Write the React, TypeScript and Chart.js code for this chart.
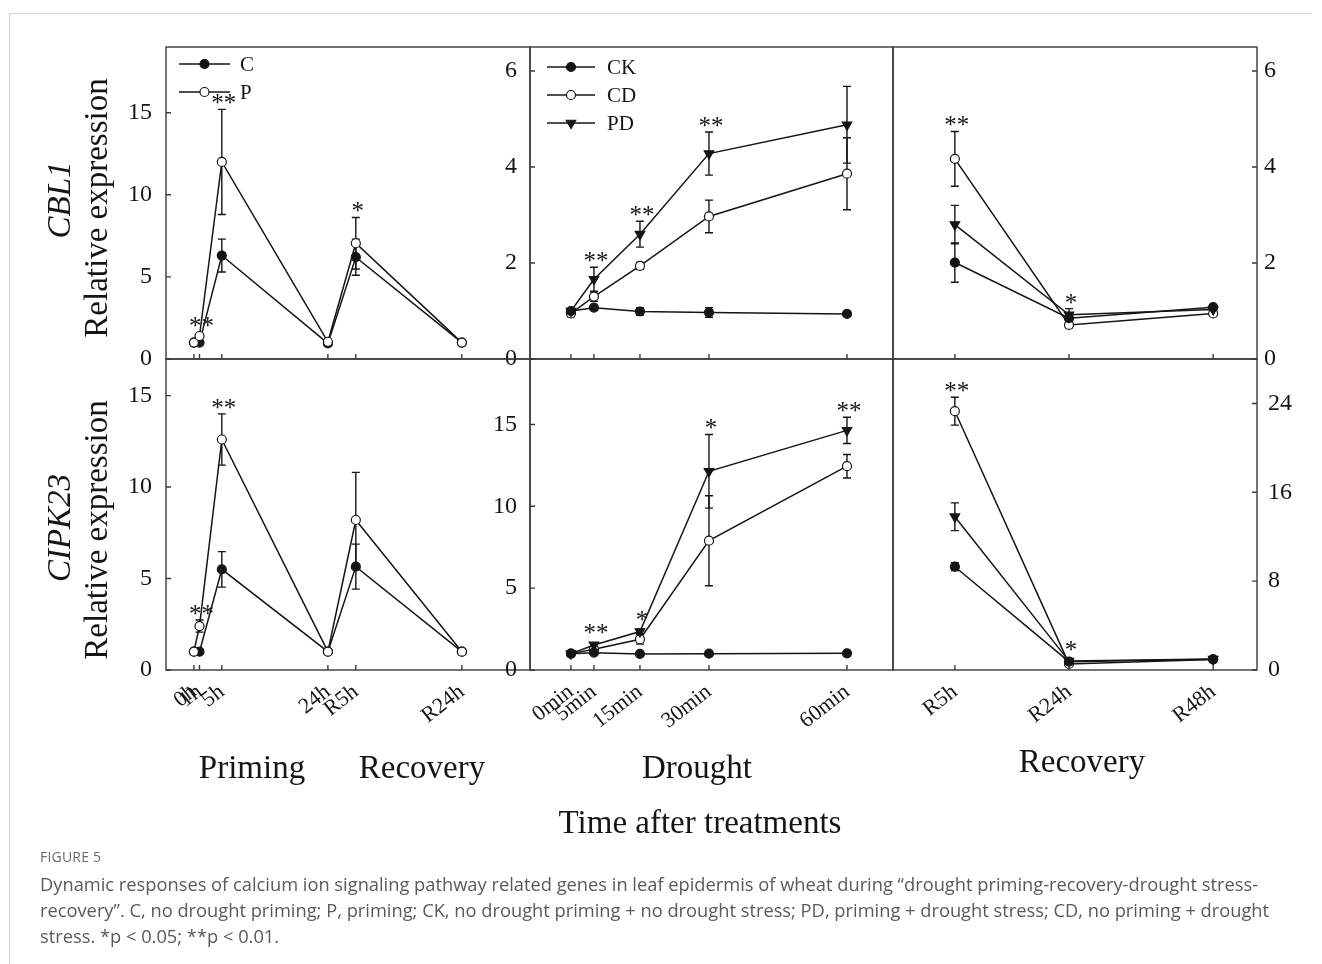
import React, { useEffect, useRef } from 'react';
import { Chart, registerables } from 'chart.js';

Chart.register(...registerables);

const PAGE_W = 1322;
const PAGE_H = 964;
const SERIF = '"Liberation Serif", "Times New Roman", Times, serif';
const SANS = '"Open Sans", "Noto Sans", sans-serif';
const INK = '#151515';
const FRAME = '#3a3a3a';

// Sampling times and their tick labels
const primingHours = [0, 1, 5, 24, 29, 48];
const primingTickLabels = ['0h', '1h', '5h', '24h', 'R5h', 'R24h'];
const droughtMinutes = [0, 5, 15, 30, 60];
const droughtTickLabels = ['0min', '5min', '15min', '30min', '60min'];
const recoveryHours = [5, 24, 48];
const recoveryTickLabels = ['R5h', 'R24h', 'R48h'];

// CBL1 – priming / recovery
const cbl1PrimingC = [1.0, 1.0, 6.3, 0.95, 6.2, 1.0];
const cbl1PrimingCErr = [0.05, 0.05, 1.0, 0.05, 1.1, 0.04];
const cbl1PrimingP = [1.0, 1.4, 12.0, 1.05, 7.05, 1.0];
const cbl1PrimingPErr = [0.05, 0.1, 3.2, 0.05, 1.57, 0.04];
const cbl1PrimingSig = ['', '**', '**', '', '*', ''];

// CBL1 – drought
const cbl1DroughtCK = [1.0, 1.07, 0.99, 0.97, 0.94];
const cbl1DroughtCKErr = [0.05, 0.04, 0.08, 0.1, 0.05];
const cbl1DroughtCD = [0.95, 1.3, 1.94, 2.97, 3.86];
const cbl1DroughtCDErr = [0.07, 0.1, 0.07, 0.34, 0.75];
const cbl1DroughtPD = [1.0, 1.66, 2.6, 4.28, 4.88];
const cbl1DroughtPDErr = [0.05, 0.25, 0.27, 0.45, 0.8];
const cbl1DroughtSig = ['', '**', '**', '**', ''];

// CBL1 – recovery after drought
const cbl1RecoveryCK = [2.01, 0.85, 1.08];
const cbl1RecoveryCKErr = [0.41, 0.05, 0.05];
const cbl1RecoveryCD = [4.17, 0.71, 0.95];
const cbl1RecoveryCDErr = [0.57, 0.06, 0.06];
const cbl1RecoveryPD = [2.8, 0.92, 1.03];
const cbl1RecoveryPDErr = [0.4, 0.13, 0.05];
const cbl1RecoverySig = ['**', '*', ''];

// CIPK23 – priming / recovery
const cipk23PrimingC = [1.0, 1.0, 5.5, 1.0, 5.65, 1.0];
const cipk23PrimingCErr = [0.05, 0.06, 0.97, 0.05, 1.23, 0.05];
const cipk23PrimingP = [1.0, 2.4, 12.6, 1.0, 8.2, 1.0];
const cipk23PrimingPErr = [0.05, 0.33, 1.4, 0.05, 2.6, 0.05];
const cipk23PrimingSig = ['', '**', '**', '', '', ''];

// CIPK23 – drought
const cipk23DroughtCK = [1.0, 1.06, 0.98, 1.0, 1.02];
const cipk23DroughtCKErr = [0.05, 0.06, 0.05, 0.05, 0.05];
const cipk23DroughtCD = [1.0, 1.27, 1.88, 7.9, 12.45];
const cipk23DroughtCDErr = [0.05, 0.1, 0.3, 2.75, 0.72];
const cipk23DroughtPD = [1.0, 1.53, 2.35, 12.14, 14.64];
const cipk23DroughtPDErr = [0.05, 0.1, 0.15, 2.25, 0.8];
const cipk23DroughtSig = ['', '**', '*', '*', '**'];

// CIPK23 – recovery after drought
const cipk23RecoveryCK = [9.3, 0.75, 0.96];
const cipk23RecoveryCKErr = [0.35, 0.1, 0.08];
const cipk23RecoveryCD = [23.3, 0.55, 0.95];
const cipk23RecoveryCDErr = [1.25, 0.1, 0.08];
const cipk23RecoveryPD = [13.8, 0.8, 0.98];
const cipk23RecoveryPDErr = [1.25, 0.1, 0.08];
const cipk23RecoverySig = ['**', '*', ''];

// Y tick values per panel
const cbl1PrimingYTicks = [0, 5, 10, 15];
const cbl1DroughtYTicks = [0, 2, 4, 6];
const cbl1RecoveryYTicks = [0, 2, 4, 6];
const cipk23PrimingYTicks = [0, 5, 10, 15];
const cipk23DroughtYTicks = [0, 5, 10, 15];
const cipk23RecoveryYTicks = [0, 8, 16, 24];

// Panel grid (pixel edges of the plot boxes)
const COLS = [166, 530, 893, 1257];
const ROWS = [47, 359, 670];
// Room reserved for tick labels outside each plot box
const Y_AXIS_W = 60;
const X_AXIS_H = 90;

type MarkerStyle = 'filled' | 'open' | 'triangle';
type Series = { name: string; values: number[]; errors: number[]; marker: MarkerStyle; order: number };
type LegendBox = { x0: number; x1: number; tx: number; y0: number; dy: number };
type Panel = {
  key: string;
  rect: [number, number, number, number];
  xValues: number[];
  xLabels: string[];
  xMin: number;
  xMax: number;
  showXLabels: boolean;
  yMax: number;
  yTicks: number[];
  yPos: 'left' | 'right';
  yPad: number;
  series: Series[];
  sig: string[];
  legend?: LegendBox;
};

const mk = (name: string, values: number[], errors: number[], marker: MarkerStyle, order: number): Series => ({
  name, values, errors, marker, order,
});

const panels: Panel[] = [
  {
    key: 'cbl1-priming',
    rect: [COLS[0], ROWS[0], COLS[1], ROWS[1]],
    xValues: primingHours, xLabels: primingTickLabels, xMin: -5, xMax: 60.2, showXLabels: false,
    yMax: 19, yTicks: cbl1PrimingYTicks, yPos: 'left', yPad: 14,
    series: [mk('C', cbl1PrimingC, cbl1PrimingCErr, 'filled', 1), mk('P', cbl1PrimingP, cbl1PrimingPErr, 'open', 0)],
    sig: cbl1PrimingSig,
    legend: { x0: 13, x1: 64, tx: 74, y0: 17, dy: 28 },
  },
  {
    key: 'cbl1-drought',
    rect: [COLS[1], ROWS[0], COLS[2], ROWS[1]],
    xValues: droughtMinutes, xLabels: droughtTickLabels, xMin: -8.9, xMax: 70, showXLabels: false,
    yMax: 6.5, yTicks: cbl1DroughtYTicks, yPos: 'left', yPad: 13,
    series: [
      mk('CK', cbl1DroughtCK, cbl1DroughtCKErr, 'filled', 1),
      mk('CD', cbl1DroughtCD, cbl1DroughtCDErr, 'open', 2),
      mk('PD', cbl1DroughtPD, cbl1DroughtPDErr, 'triangle', 0),
    ],
    sig: cbl1DroughtSig,
    legend: { x0: 17, x1: 65, tx: 77, y0: 20, dy: 28 },
  },
  {
    key: 'cbl1-recovery',
    rect: [COLS[2], ROWS[0], COLS[3], ROWS[1]],
    xValues: recoveryHours, xLabels: recoveryTickLabels, xMin: -5.3, xMax: 55.3, showXLabels: false,
    yMax: 6.5, yTicks: cbl1RecoveryYTicks, yPos: 'right', yPad: 7,
    series: [
      mk('CK', cbl1RecoveryCK, cbl1RecoveryCKErr, 'filled', 0),
      mk('CD', cbl1RecoveryCD, cbl1RecoveryCDErr, 'open', 2),
      mk('PD', cbl1RecoveryPD, cbl1RecoveryPDErr, 'triangle', 1),
    ],
    sig: cbl1RecoverySig,
  },
  {
    key: 'cipk23-priming',
    rect: [COLS[0], ROWS[1], COLS[1], ROWS[2]],
    xValues: primingHours, xLabels: primingTickLabels, xMin: -5, xMax: 60.2, showXLabels: true,
    yMax: 17, yTicks: cipk23PrimingYTicks, yPos: 'left', yPad: 14,
    series: [mk('C', cipk23PrimingC, cipk23PrimingCErr, 'filled', 1), mk('P', cipk23PrimingP, cipk23PrimingPErr, 'open', 0)],
    sig: cipk23PrimingSig,
  },
  {
    key: 'cipk23-drought',
    rect: [COLS[1], ROWS[1], COLS[2], ROWS[2]],
    xValues: droughtMinutes, xLabels: droughtTickLabels, xMin: -8.9, xMax: 70, showXLabels: true,
    yMax: 19, yTicks: cipk23DroughtYTicks, yPos: 'left', yPad: 13,
    series: [
      mk('CK', cipk23DroughtCK, cipk23DroughtCKErr, 'filled', 0),
      mk('CD', cipk23DroughtCD, cipk23DroughtCDErr, 'open', 2),
      mk('PD', cipk23DroughtPD, cipk23DroughtPDErr, 'triangle', 1),
    ],
    sig: cipk23DroughtSig,
  },
  {
    key: 'cipk23-recovery',
    rect: [COLS[2], ROWS[1], COLS[3], ROWS[2]],
    xValues: recoveryHours, xLabels: recoveryTickLabels, xMin: -5.3, xMax: 55.3, showXLabels: true,
    yMax: 28, yTicks: cipk23RecoveryYTicks, yPos: 'right', yPad: 11,
    series: [
      mk('CK', cipk23RecoveryCK, cipk23RecoveryCKErr, 'filled', 0),
      mk('CD', cipk23RecoveryCD, cipk23RecoveryCDErr, 'open', 2),
      mk('PD', cipk23RecoveryPD, cipk23RecoveryPDErr, 'triangle', 1),
    ],
    sig: cipk23RecoverySig,
  },
];

const CIRCLE_R = 4.5;
const TRI_R = 5.5;
const CAP = 4;
const TICK_LEN = 5;

function markerRadius(m: MarkerStyle) {
  return m === 'triangle' ? TRI_R : CIRCLE_R;
}

function drawMarker(ctx: CanvasRenderingContext2D, m: MarkerStyle, x: number, y: number) {
  ctx.beginPath();
  if (m === 'triangle') {
    let rad = Math.PI;
    ctx.moveTo(x + Math.sin(rad) * TRI_R, y - Math.cos(rad) * TRI_R);
    rad += (2 * Math.PI) / 3;
    ctx.lineTo(x + Math.sin(rad) * TRI_R, y - Math.cos(rad) * TRI_R);
    rad += (2 * Math.PI) / 3;
    ctx.lineTo(x + Math.sin(rad) * TRI_R, y - Math.cos(rad) * TRI_R);
    ctx.closePath();
  } else {
    ctx.arc(x, y, CIRCLE_R, 0, Math.PI * 2);
  }
  ctx.fillStyle = m === 'open' ? '#ffffff' : INK;
  ctx.fill();
  ctx.lineWidth = 1.2;
  ctx.strokeStyle = INK;
  ctx.stroke();
}

function decorPlugin(p: Panel) {
  return {
    id: 'panelDecor',
    beforeDatasetsDraw(chart: any) {
      const { ctx } = chart;
      const xs = chart.scales.x;
      const ys = chart.scales.y;
      ctx.save();
      ctx.strokeStyle = INK;
      ctx.lineWidth = 1.4;
      p.series.forEach((s) => {
        s.values.forEach((v, i) => {
          const e = s.errors[i];
          if (!e) return;
          const px = xs.getPixelForValue(p.xValues[i]);
          const y1 = ys.getPixelForValue(v + e);
          const y2 = ys.getPixelForValue(v - e);
          ctx.beginPath();
          ctx.moveTo(px, y1);
          ctx.lineTo(px, y2);
          ctx.moveTo(px - CAP, y1);
          ctx.lineTo(px + CAP, y1);
          ctx.moveTo(px - CAP, y2);
          ctx.lineTo(px + CAP, y2);
          ctx.stroke();
        });
      });
      ctx.restore();
    },
    afterDatasetsDraw(chart: any) {
      const { ctx } = chart;
      const xs = chart.scales.x;
      const ys = chart.scales.y;
      ctx.save();
      ctx.fillStyle = INK;
      ctx.font = `25px ${SERIF}`;
      ctx.textAlign = 'center';
      ctx.textBaseline = 'alphabetic';
      p.sig.forEach((mark, i) => {
        if (!mark) return;
        let topPx = Infinity;
        p.series.forEach((s) => {
          const v = s.values[i];
          const e = s.errors[i] || 0;
          topPx = Math.min(topPx, ys.getPixelForValue(v + e), ys.getPixelForValue(v) - markerRadius(s.marker));
        });
        const m = ctx.measureText(mark);
        const baseline = topPx - 5 - m.actualBoundingBoxDescent;
        ctx.fillText(mark, xs.getPixelForValue(p.xValues[i]) + 2, baseline);
      });
      ctx.restore();
    },
    afterDraw(chart: any) {
      const { ctx, chartArea } = chart;
      const xs = chart.scales.x;
      const ys = chart.scales.y;
      const { left, top, right, bottom } = chartArea;
      ctx.save();
      // plot box
      ctx.strokeStyle = FRAME;
      ctx.lineWidth = 1.4;
      ctx.strokeRect(left, top, right - left, bottom - top);
      // inward tick marks
      ctx.beginPath();
      p.xValues.forEach((v) => {
        const px = xs.getPixelForValue(v);
        ctx.moveTo(px, bottom);
        ctx.lineTo(px, bottom - TICK_LEN);
      });
      p.yTicks.forEach((v) => {
        const py = ys.getPixelForValue(v);
        if (p.yPos === 'left') {
          ctx.moveTo(left, py);
          ctx.lineTo(left + TICK_LEN, py);
        } else {
          ctx.moveTo(right, py);
          ctx.lineTo(right - TICK_LEN, py);
        }
      });
      ctx.stroke();
      // legend
      if (p.legend) {
        const lg = p.legend;
        p.series.forEach((s, k) => {
          const y = top + lg.y0 + k * lg.dy;
          ctx.beginPath();
          ctx.strokeStyle = INK;
          ctx.lineWidth = 1.5;
          ctx.moveTo(left + lg.x0, y);
          ctx.lineTo(left + lg.x1, y);
          ctx.stroke();
          drawMarker(ctx, s.marker, left + (lg.x0 + lg.x1) / 2, y);
          ctx.fillStyle = INK;
          ctx.font = `21px ${SERIF}`;
          ctx.textAlign = 'left';
          ctx.textBaseline = 'middle';
          ctx.fillText(s.name, left + lg.tx, y + 1);
        });
      }
      ctx.restore();
    },
  };
}

function buildConfig(p: Panel): any {
  const [left, top, right, bottom] = p.rect;
  const xH = p.showXLabels ? X_AXIS_H : 0;
  return {
    type: 'line',
    data: {
      datasets: p.series.map((s) => ({
        label: s.name,
        order: s.order,
        data: p.xValues.map((x, i) => ({ x, y: s.values[i] })),
        borderColor: INK,
        borderWidth: 1.5,
        tension: 0,
        fill: false,
        pointStyle: s.marker === 'triangle' ? 'triangle' : 'circle',
        pointRotation: s.marker === 'triangle' ? 180 : 0,
        pointRadius: markerRadius(s.marker),
        pointBackgroundColor: s.marker === 'open' ? '#ffffff' : INK,
        pointBorderColor: INK,
        pointBorderWidth: 1.2,
        clip: false,
      })),
    },
    options: {
      responsive: false,
      animation: false,
      devicePixelRatio: 1,
      events: [],
      layout: {
        padding: {
          left: p.yPos === 'left' ? left - Y_AXIS_W : left,
          right: p.yPos === 'right' ? PAGE_W - right - Y_AXIS_W : PAGE_W - right,
          top,
          bottom: PAGE_H - bottom - xH,
        },
      },
      plugins: { legend: { display: false }, tooltip: { enabled: false }, title: { display: false } },
      scales: {
        x: {
          type: 'linear',
          position: 'bottom',
          min: p.xMin,
          max: p.xMax,
          afterBuildTicks: (s: any) => {
            s.ticks = p.xValues.map((v) => ({ value: v }));
          },
          afterFit: (s: any) => {
            s.height = xH;
          },
          grid: { display: false, drawTicks: false },
          border: { display: false },
          ticks: {
            display: p.showXLabels,
            autoSkip: false,
            minRotation: 38,
            maxRotation: 38,
            padding: 9,
            labelOffset: 0,
            color: INK,
            font: { family: SERIF, size: 22 },
            callback: (_v: any, i: number) => p.xLabels[i],
          },
        },
        y: {
          type: 'linear',
          position: p.yPos,
          min: 0,
          max: p.yMax,
          afterBuildTicks: (s: any) => {
            s.ticks = p.yTicks.map((v) => ({ value: v }));
          },
          afterFit: (s: any) => {
            s.width = Y_AXIS_W;
          },
          grid: { display: false, drawTicks: false },
          border: { display: false },
          ticks: {
            padding: p.yPad,
            color: INK,
            font: { family: SERIF, size: 24 },
            callback: (v: any) => String(v),
          },
        },
      },
    },
    plugins: [decorPlugin(p)],
  };
}

function PanelChart({ panel }: { panel: Panel }) {
  const ref = useRef<HTMLCanvasElement>(null);
  useEffect(() => {
    if (!ref.current) return;
    const chart = new Chart(ref.current, buildConfig(panel));
    return () => chart.destroy();
  }, [panel]);
  return (
    <canvas
      ref={ref}
      width={PAGE_W}
      height={PAGE_H}
      style={{ position: 'absolute', left: 0, top: 0, width: PAGE_W, height: PAGE_H }}
    />
  );
}

// Serif text placed by its baseline (horizontal) or by its centre (rotated)
const BASE = 0.8375;
function SerifText({ x, y, size, children, italic }: any) {
  return (
    <div
      style={{
        position: 'absolute',
        left: x,
        top: y - BASE * size,
        transform: 'translateX(-50%)',
        fontFamily: SERIF,
        fontSize: size,
        lineHeight: `${size}px`,
        fontStyle: italic ? 'italic' : 'normal',
        whiteSpace: 'nowrap',
        color: INK,
      }}
    >
      {children}
    </div>
  );
}

function VerticalText({ cx, cy, size, children, italic }: any) {
  return (
    <div
      style={{
        position: 'absolute',
        left: cx,
        top: cy,
        transform: 'translate(-50%, -50%) rotate(-90deg)',
        fontFamily: SERIF,
        fontSize: size,
        lineHeight: `${size}px`,
        fontStyle: italic ? 'italic' : 'normal',
        whiteSpace: 'nowrap',
        color: INK,
      }}
    >
      {children}
    </div>
  );
}

const captionLines = [
  'Dynamic responses of calcium ion signaling pathway related genes in leaf epidermis of wheat during \u201cdrought priming-recovery-drought stress-',
  'recovery\u201d. C, no drought priming; P, priming; CK, no drought priming + no drought stress; PD, priming + drought stress; CD, no priming + drought',
  'stress. *p < 0.05; **p < 0.01.',
];

export default function App() {
  return (
    <div
      style={{
        position: 'absolute',
        left: 0,
        top: 0,
        width: PAGE_W,
        height: PAGE_H,
        background: '#ffffff',
        overflow: 'hidden',
      }}
    >
      {/* figure card outline */}
      <div style={{ position: 'absolute', left: 9, top: 13, width: 1303, height: 1, background: '#d4d4d4' }} />
      <div style={{ position: 'absolute', left: 9, top: 13, width: 1, height: PAGE_H - 13, background: '#d4d4d4' }} />

      {panels.map((p) => (
        <PanelChart key={p.key} panel={p} />
      ))}

      {/* y-axis titles */}
      <VerticalText cx={59} cy={200} size={33} italic>CBL1</VerticalText>
      <VerticalText cx={96} cy={208} size={33}>Relative expression</VerticalText>
      <VerticalText cx={59} cy={528} size={33} italic>CIPK23</VerticalText>
      <VerticalText cx={96} cy={530} size={33}>Relative expression</VerticalText>

      {/* phase labels */}
      <SerifText x={252} y={779} size={33}>Priming</SerifText>
      <SerifText x={422} y={779} size={33}>Recovery</SerifText>
      <SerifText x={697} y={779} size={33}>Drought</SerifText>
      <SerifText x={1082} y={773} size={33}>Recovery</SerifText>
      <SerifText x={700} y={834} size={33}>Time after treatments</SerifText>

      {/* caption */}
      <div
        style={{
          position: 'absolute',
          left: 40,
          top: 849,
          fontFamily: SANS,
          fontSize: 14,
          lineHeight: '16px',
          color: '#6a6a6a',
          letterSpacing: 0.2,
        }}
      >
        FIGURE 5
      </div>
      {captionLines.map((line, i) => (
        <div
          key={i}
          style={{
            position: 'absolute',
            left: 40,
            top: 871 + i * 26,
            fontFamily: SANS,
            fontSize: 18.3,
            lineHeight: '26px',
            color: '#5a5a5a',
            whiteSpace: 'nowrap',
          }}
        >
          {line}
        </div>
      ))}
    </div>
  );
}
